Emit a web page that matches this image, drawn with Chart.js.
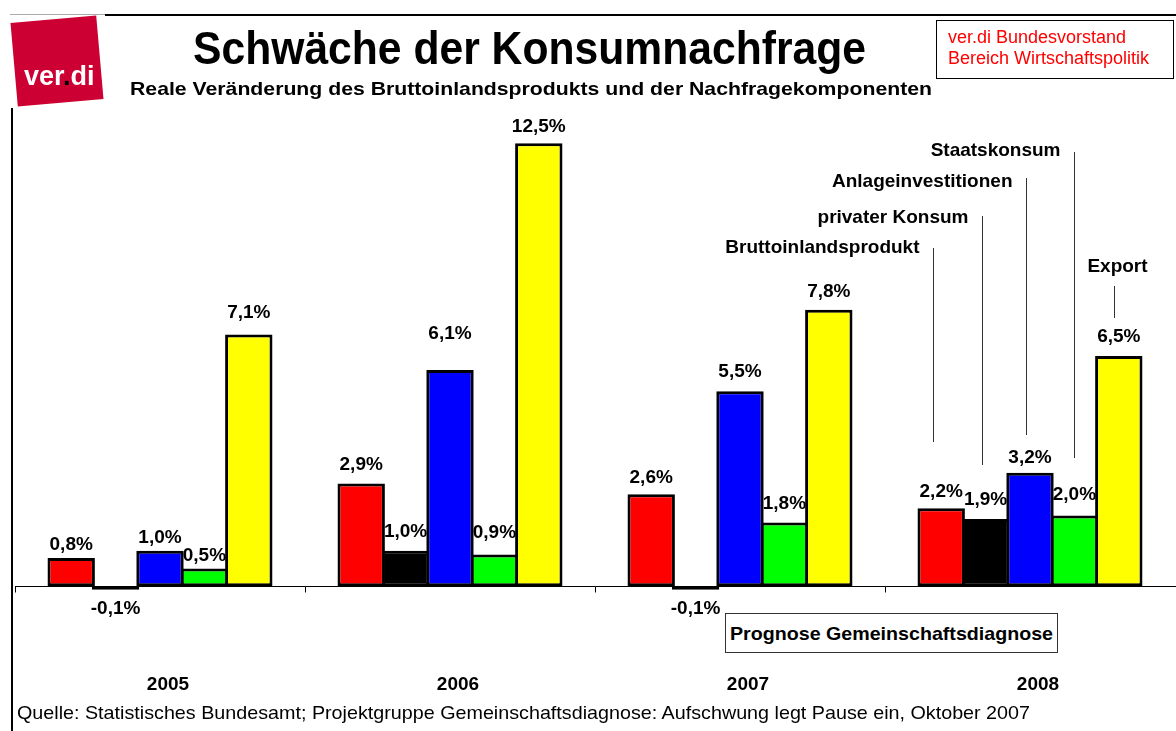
<!DOCTYPE html>
<html>
<head>
<meta charset="utf-8">
<script src="https://cdn.jsdelivr.net/npm/chart.js@4.4.1/dist/chart.umd.min.js"></script>
<style>
html,body{margin:0;padding:0;background:#fff;}
body{width:1176px;height:731px;position:relative;overflow:hidden;font-family:"Liberation Sans",Arial,sans-serif;}
#wrap{position:absolute;left:0;top:0;width:1176px;height:731px;}
.abs{position:absolute;white-space:nowrap;line-height:1;}
#logo{position:absolute;left:14px;top:19px;width:86px;height:84px;background:#CC0033;transform:rotate(-5deg);}
#logotxt{position:absolute;left:24px;top:63px;font-weight:bold;font-size:27px;color:#fff;line-height:1;}
#title{left:193px;top:25px;font-size:46px;font-weight:bold;color:#000;transform-origin:0 0;}
#subtitle{left:130px;top:79px;font-size:19px;font-weight:bold;color:#000;transform-origin:0 0;}
#rbox{position:absolute;left:936px;top:20px;width:236px;height:57px;border:1.5px solid #000;background:#fff;}
#rtext{left:948px;top:27px;font-size:18px;line-height:21px;color:#ff0000;}
#pbox{position:absolute;left:725px;top:613px;width:331px;height:38px;border:1px solid #333;background:#fff;}
#ptext{left:730px;top:624px;font-size:19px;font-weight:bold;color:#000;transform-origin:0 0;}
#foot{left:17px;top:703px;font-size:19px;color:#000;transform-origin:0 0;}
#topline{position:absolute;left:105px;top:14px;width:1071px;height:2px;background:#000;}
#topline2{position:absolute;left:10px;top:14px;width:95px;height:1px;background:#aaa;}
#leftline{position:absolute;left:11px;top:108px;width:2px;height:623px;background:#000;}
</style>
</head>
<body>
<div id="wrap"><canvas id="c" width="1176" height="731"></canvas></div>
<div id="topline2"></div>
<div id="topline"></div>
<div id="leftline"></div>
<div id="logo"></div>
<div id="logotxt">ver<span style="color:#000">.</span>di</div>
<div id="title" class="abs">Schwäche der Konsumnachfrage</div>
<div id="subtitle" class="abs">Reale Veränderung des Bruttoinlandsprodukts und der Nachfragekomponenten</div>
<div id="rbox"></div>
<div id="rtext" class="abs">ver.di Bundesvorstand<br>Bereich Wirtschaftspolitik</div>
<div id="pbox"></div>
<div id="ptext" class="abs">Prognose Gemeinschaftsdiagnose</div>
<div id="foot" class="abs">Quelle: Statistisches Bundesamt; Projektgruppe Gemeinschaftsdiagnose: Aufschwung legt Pause ein, Oktober 2007</div>
<script>
// ---- data ----
const categories = ['2005', '2006', '2007', '2008'];
const seriesNames = ['Bruttoinlandsprodukt', 'privater Konsum', 'Anlageinvestitionen', 'Staatskonsum', 'Export'];
const bip        = [0.8, 2.9, 2.6, 2.2];
const privKonsum = [-0.1, 1.0, -0.1, 1.9];
const anlage     = [1.0, 6.1, 5.5, 3.2];
const staat      = [0.5, 0.9, 1.8, 2.0];
const exportVals = [7.1, 12.5, 7.8, 6.5];

// ---- styles ----
const colors = ['#FF0000', '#000000', '#0000FF', '#00FF00', '#FFFF00'];
const labelLift = [[13,19,16,17],[-19,19,-19,19],[13,36,20,15],[13,22,19,21],[22,16,18,19]];
const annoLineDx = [-8, -4, -4, 0, -5];
const annoLineTop = [248, 216, 178, 152, 286];
const annoLineBottom = [442, 465, 435, 458, 318];
const annoTextY = [248, 218, 182, 151, 267];

function fit(id, w) {
  const el = document.getElementById(id);
  const r = el.getBoundingClientRect().width;
  el.style.transform = 'scaleX(' + (w / r) + ')';
}
fit('title', 673);
fit('subtitle', 802);
fit('ptext', 323);
fit('foot', 1013);

const seriesVals = [bip, privKonsum, anlage, staat, exportVals];
const FONT = '"Liberation Sans", Arial, sans-serif';

const decor = {
  id: 'decor',
  beforeDatasetsDraw(chart) {
    const {ctx, chartArea, scales: {x, y}} = chart;
    const y0 = Math.round(y.getPixelForValue(0)) + 0.5;
    const half = (x.getPixelForValue(1) - x.getPixelForValue(0)) / 2;
    ctx.save();
    ctx.strokeStyle = '#000';
    ctx.lineWidth = 1;
    ctx.beginPath();
    ctx.moveTo(chartArea.left, y0);
    ctx.lineTo(chart.width, y0);
    for (let i = 0; i < categories.length; i++) {
      const bx = Math.round(x.getPixelForValue(i) - half) + 0.5;
      ctx.moveTo(bx, y0);
      ctx.lineTo(bx, y0 + 6);
    }
    ctx.stroke();
    ctx.restore();
  },
  afterDatasetsDraw(chart) {
    const {ctx} = chart;
    ctx.save();
    ctx.fillStyle = '#000';
    ctx.font = 'bold 19px ' + FONT;
    ctx.textAlign = 'center';
    ctx.textBaseline = 'middle';
    chart.data.datasets.forEach((ds, di) => {
      const meta = chart.getDatasetMeta(di);
      meta.data.forEach((el, i) => {
        const v = ds.data[i];
        const txt = v.toFixed(1).replace('.', ',') + '%';
        ctx.fillText(txt, el.x, el.y - labelLift[di][i]);
      });
    });
    // series annotations at last category
    const last = categories.length - 1;
    ctx.strokeStyle = '#333';
    ctx.lineWidth = 1;
    chart.data.datasets.forEach((ds, di) => {
      const el = chart.getDatasetMeta(di).data[last];
      const lx = Math.round(el.x + annoLineDx[di]) + 0.5;
      ctx.beginPath();
      ctx.moveTo(lx, annoLineTop[di]);
      ctx.lineTo(lx, annoLineBottom[di]);
      ctx.stroke();
      if (di === seriesNames.length - 1) {
        ctx.textAlign = 'center';
        ctx.fillText(ds.label, lx + 3, annoTextY[di]);
      } else {
        ctx.textAlign = 'right';
        ctx.fillText(ds.label, lx - 14, annoTextY[di]);
      }
    });
    ctx.restore();
  }
};

new Chart(document.getElementById('c'), {
  type: 'bar',
  data: {
    labels: categories,
    datasets: seriesNames.map((n, i) => ({
      label: n,
      data: seriesVals[i],
      backgroundColor: colors[i],
      borderColor: '#000',
      borderWidth: 3,
      borderSkipped: false,
      categoryPercentage: 0.7655,
      barPercentage: 1.0676
    }))
  },
  options: {
    responsive: false,
    animation: false,
    devicePixelRatio: 1,
    layout: {padding: {left: 15, right: 1, top: 90, bottom: 19}},
    plugins: {legend: {display: false}, tooltip: {enabled: false}, title: {display: false}},
    scales: {
      x: {
        grid: {display: false, drawTicks: false},
        border: {display: false},
        ticks: {color: '#000', font: {family: FONT, size: 19, weight: 'bold'}, padding: 16, labelOffset: 8, maxRotation: 0}
      },
      y: {display: false, min: -2, max: 14}
    }
  },
  plugins: [decor]
});
</script>
</body>
</html>
